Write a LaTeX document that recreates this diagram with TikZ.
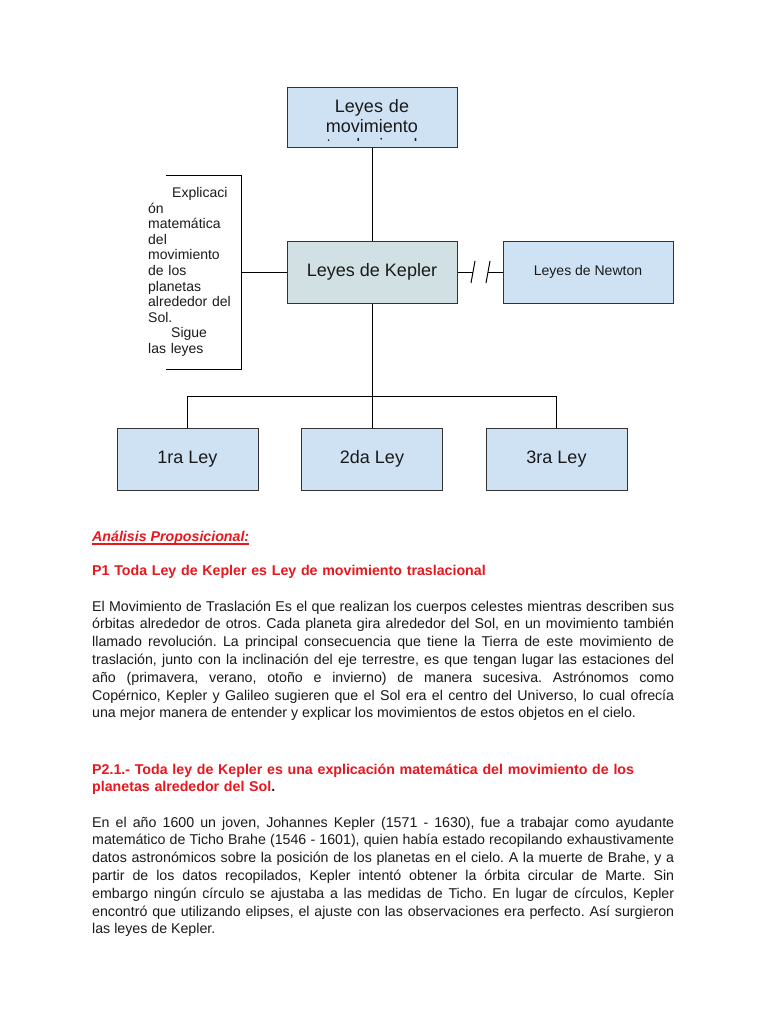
\documentclass[tikz,border=0pt]{standalone}
\usepackage{fontspec}
\setmainfont{Liberation Sans}
\usepackage{xcolor}
\usepackage{tikz}
\usetikzlibrary{positioning,calc}
\frenchspacing
\definecolor{cceleste}{HTML}{CFE2F3}
\definecolor{cgrisaz}{HTML}{D0E0E3}
\definecolor{cborde}{HTML}{333333}
\definecolor{crojo}{HTML}{E8161E}
\definecolor{ctexto}{HTML}{1A1A1A}
\tikzset{
  caja/.style={rectangle, draw=cborde, fill=cceleste, line width=1pt,
    minimum width=170pt, minimum height=62pt, inner sep=0pt, align=center,
    font=\fontsize{18}{20}\selectfont, text=ctexto},
  cajak/.style={caja, fill=cgrisaz},
  cajal/.style={caja, minimum width=141pt},
  linea/.style={draw=black, line width=1pt},
  parrafo/.style={anchor=base west, inner sep=0pt, text width=582pt, align=justify,
    font=\fontsize{14.2}{17.8}\selectfont, text=ctexto},
  titulo/.style={anchor=base west, inner sep=0pt, text width=600pt, align=left,
    font=\fontsize{14.2}{17.8}\selectfont\bfseries, text=crojo},
  notal/.style={anchor=base west, inner sep=0pt, text width=100pt, align=left,
    font=\fontsize{14}{15.5}\selectfont, text=ctexto},
}

\begin{document}
\begin{tikzpicture}[x=1pt, y=-1pt]
  \fill[white] (0,0) rectangle (768,1024);
  \useasboundingbox (0,0) rectangle (768,1024);
  % diagrama
  \node[caja, minimum height=60pt] (mov) at (372,118) {};
  \begin{scope}
    \clip (287,88) rectangle (457,141);
    \node[anchor=base, inner sep=0pt, text width=170pt, align=center,
      font=\fontsize{18}{19.5}\selectfont, text=ctexto]
      (movtxt) at (372,113) {Leyes de\\movimiento\\traslacional};
  \end{scope}
  \node[cajak] (kepler) at (372,272) {Leyes de Kepler};
  \node[caja, font=\fontsize{14}{16}\selectfont] (newton) at (588,272) {Leyes de Newton};
  \node[cajal] (ley1) at (187.5,459) {1ra Ley};
  \node[cajal] (ley2) at (372,459) {2da Ley};
  \node[cajal] (ley3) at (556.5,459) {3ra Ley};
  \node[notal] (expl) at (148,198) {\hspace*{24pt}Explicaci\\ón\\matemática\\del\\movimiento\\de los\\planetas\\alrededor del\\Sol.\\\hspace*{23pt}Sigue\\las leyes};
  \draw[linea] (166,176) -| (241,369) -- (166,369);
  \coordinate (explder) at (241,272);
  \draw[linea] (explder) -- (kepler.west);
  \draw[linea] (mov) -- (kepler);
  \draw[linea] (kepler) -- (ley2);
  \draw[linea] (ley1.north) -- ++(0,-31) -| (ley3.north);
  \coordinate (corte1) at (473,272);
  \coordinate (corte2) at (488,272);
  \draw[linea] (kepler.east) -- (corte1);
  \draw[linea] (corte2) -- (newton.west);
  \draw[linea] ($(corte1)+(2,-11)$) -- ($(corte1)+(-2,11)$);
  \draw[linea] ($(corte2)+(2,-11)$) -- ($(corte2)+(-2,11)$);
  % texto
  \node[titulo, text width=, font=\fontsize{14.2}{17.8}\selectfont\bfseries\itshape] (anal) at (92,541) {Análisis Proposicional:};
  \draw[crojo, line width=1.2pt] ($(anal.base west)+(0,3)$) -- ($(anal.base east)+(0,3)$);
  \node[titulo] (p1) at (92,575) {P1 Toda Ley de Kepler es Ley de movimiento traslacional};
  \node[parrafo] (parr1) at (92,611) {El Movimiento de Traslación Es el que realizan los cuerpos celestes mientras describen sus\linebreak
órbitas alrededor de otros. Cada planeta gira alrededor del Sol, en un movimiento también\linebreak
llamado revolución. La principal consecuencia que tiene la Tierra de este movimiento de\linebreak
traslación, junto con la inclinación del eje terrestre, es que tengan lugar las estaciones del\linebreak
año (primavera, verano, otoño e invierno) de manera sucesiva. Astrónomos como\linebreak
Copérnico, Kepler y Galileo sugieren que el Sol era el centro del Universo, lo cual ofrecía\linebreak
una mejor manera de entender y explicar los movimientos de estos objetos en el cielo.};
  \node[titulo] (p2) at (92,774) {P2.1.- Toda ley de Kepler es una explicación matemática del movimiento de los\\planetas alrededor del Sol\textcolor{ctexto}{.}};
  \node[parrafo] (parr2) at (92,827) {En el año 1600 un joven, Johannes Kepler (1571 - 1630), fue a trabajar como ayudante\linebreak
matemático de Ticho Brahe (1546 - 1601), quien había estado recopilando exhaustivamente\linebreak
datos astronómicos sobre la posición de los planetas en el cielo. A la muerte de Brahe, y a\linebreak
partir de los datos recopilados, Kepler intentó obtener la órbita circular de Marte. Sin\linebreak
embargo ningún círculo se ajustaba a las medidas de Ticho. En lugar de círculos, Kepler\linebreak
encontró que utilizando elipses, el ajuste con las observaciones era perfecto. Así surgieron\linebreak
las leyes de Kepler.};
\end{tikzpicture}
\end{document}
